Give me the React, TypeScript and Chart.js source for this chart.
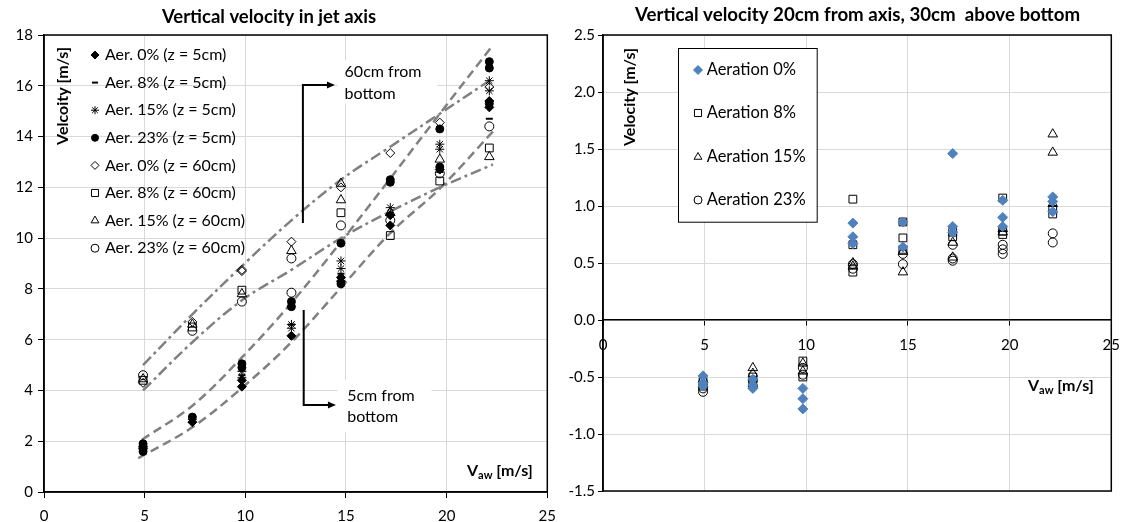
import React, { useEffect, useRef } from 'react';
import { Chart, registerables } from 'chart.js';
import { drawPoint } from 'chart.js/helpers';

Chart.register(...registerables);

const FONT = 'Lato, "Open Sans", sans-serif';

// ---------- DATA ----------
const speeds = [4.92, 7.37, 9.83, 12.29, 14.75, 17.2, 19.66, 22.12];

// Left panel: vertical velocity in jet axis (values per speed)
const aer0z5 = [[1.7, 1.8], [2.75], [4.15, 4.4], [6.15], [8.3, 8.45], [10.5, 10.9], [12.7], [15.15, 15.4]];
const aer8z5 = [[1.6], [2.9], [4.6], [6.6], [8.6], [11.0], [12.6], [14.7]];
const aer15z5 = [[1.75], [2.85], [4.5, 4.75], [6.45, 6.6], [8.8, 9.1], [11.2], [13.5, 13.7], [15.8, 16.2]];
const aer23z5 = [[1.6, 1.9], [2.95], [4.9, 5.05], [7.3, 7.5], [8.2, 9.8], [12.2, 12.3], [12.8, 14.3], [15.3, 16.7, 16.95]];
const aer0z60 = [[4.3], [6.7], [8.7, 8.75], [9.86], [12.0], [13.35], [14.55], [15.95]];
const aer8z60 = [[4.4], [6.5], [7.95], [], [11.0], [10.1], [12.25], [13.55]];
const aer15z60 = [[4.45], [6.6], [7.8], [9.5], [11.5, 12.15], [11.0], [13.1], [13.2]];
const aer23z60 = [[4.6], [6.35], [7.5], [7.85, 9.2], [10.5], [10.7], [12.55], [14.4]];

// Envelope curves (left panel)
const upper60X = [4.92, 7.37, 9.83, 12.29, 14.75, 17.2, 19.66, 22.12];
const upper60Y = [5.0, 7.0, 8.9, 10.7, 12.3, 13.6, 14.9, 16.2];
const lower60X = [4.92, 7.37, 9.83, 12.29, 14.75, 17.2, 19.66, 22.3];
const lower60Y = [4.0, 5.9, 7.55, 8.75, 10.0, 11.05, 12.0, 12.9];
const upper5X = [4.85, 7.37, 9.83, 12.29, 14.75, 17.2, 19.66, 22.2];
const upper5Y = [2.05, 3.4, 5.3, 7.45, 9.85, 12.35, 14.9, 17.5];
const lower5X = [4.68, 7.37, 9.83, 12.29, 14.75, 17.2, 19.66, 22.3];
const lower5Y = [1.33, 2.55, 4.1, 5.9, 8.05, 10.2, 11.95, 14.2];

// Right panel: 20cm from axis, 30cm above bottom
const aeration0 = [[-0.49, -0.55, -0.58], [-0.52, -0.57, -0.6], [-0.6, -0.69, -0.78], [0.85, 0.73, 0.67], [0.86, 0.64], [1.46, 0.82, 0.77], [1.05, 0.9, 0.82], [1.08, 1.04, 0.95]];
const aeration8 = [[-0.54, -0.58], [-0.5, -0.55], [-0.36, -0.5], [1.06, 0.66, 0.42], [0.86, 0.72, 0.62], [0.77, 0.73], [1.07, 0.78, 0.75], [0.97, 0.93]];
const aeration15 = [[-0.52, -0.56], [-0.42, -0.47], [-0.38, -0.45], [0.47, 0.5], [0.6, 0.42], [0.68, 0.55], [0.8, 0.77], [1.63, 1.47, 1.02]];
const aeration23 = [[-0.6, -0.63], [-0.53, -0.58], [-0.42, -0.48], [0.45, 0.49], [0.49, 0.58], [0.66, 0.52, 0.54], [0.66, 0.62, 0.58], [0.76, 0.68]];

const leftLabels = ['Aer. 0% (z = 5cm)', 'Aer. 8% (z = 5cm)', 'Aer. 15% (z = 5cm)', 'Aer. 23% (z = 5cm)', 'Aer. 0% (z = 60cm)', 'Aer. 8% (z = 60cm)', 'Aer. 15% (z = 60cm)', 'Aer. 23% (z = 60cm)'];
const rightLabels = ['Aeration 0%', 'Aeration 8%', 'Aeration 15%', 'Aeration 23%'];

const xTicks = [0, 5, 10, 15, 20, 25];
const leftYTicks = [0, 2, 4, 6, 8, 10, 12, 14, 16, 18];
const rightYTicks = [-1.5, -1.0, -0.5, 0.0, 0.5, 1.0, 1.5, 2.0, 2.5];

const leftTitle = 'Vertical velocity in jet axis';
const rightTitle = 'Vertical velocity 20cm from axis, 30cm  above bottom';
const leftYTitle = 'Velcoity [m/s]';
const rightYTitle = 'Velocity [m/s]';

// ---------- STYLES ----------
const CLEAR = 'rgba(0,0,0,0)';
const BLUE = '#4f81bd';
const leftSeries = [aer0z5, aer8z5, aer15z5, aer23z5, aer0z60, aer8z60, aer15z60, aer23z60];
const leftStyles = [
  { style: 'rectRot', r: 4.5, fill: '#000', bw: 1, lr: 4 },
  { style: 'line', r: 3.5, fill: '#000', bw: 2, lr: 3 },
  { style: 'star', r: 4.5, fill: '#000', bw: 1, lr: 4 },
  { style: 'circle', r: 4, fill: '#000', bw: 1, lr: 3.5 },
  { style: 'rectRot', r: 4.5, fill: CLEAR, bw: 1, lr: 4 },
  { style: 'rect', r: 5.5, fill: CLEAR, bw: 1, lr: 5 },
  { style: 'triangle', r: 5.5, fill: CLEAR, bw: 1, lr: 4.5 },
  { style: 'circle', r: 4.5, fill: CLEAR, bw: 1, lr: 4 },
];
const rightSeries = [aeration0, aeration8, aeration15, aeration23];
const rightStyles = [
  { style: 'rectRot', r: 5, fill: BLUE, stroke: BLUE, bw: 1, lr: 4.5 },
  { style: 'rect', r: 5.5, fill: CLEAR, stroke: '#000', bw: 1, lr: 5 },
  { style: 'triangle', r: 5.5, fill: CLEAR, stroke: '#000', bw: 1, lr: 4.5 },
  { style: 'circle', r: 4.5, fill: CLEAR, stroke: '#000', bw: 1, lr: 4 },
];

const toPoints = (vals: number[][]) => speeds.flatMap((x, i) => vals[i].map((y) => ({ x, y })));
const toLine = (xs: number[], ys: number[]) => xs.map((x, i) => ({ x, y: ys[i] }));

const DASH = [9, 5];
const DASHDOT = [11, 4, 3, 4];

function setTicks(list: number[]) {
  return (scale: any) => {
    scale.ticks = list.map((value) => ({ value }));
  };
}

function drawVTitle(ctx: CanvasRenderingContext2D, text: string, x: number, y: number) {
  ctx.save();
  ctx.translate(x, y);
  ctx.rotate(-Math.PI / 2);
  ctx.font = `bold 16px ${FONT}`;
  ctx.textAlign = 'center';
  ctx.textBaseline = 'middle';
  ctx.fillStyle = '#000';
  ctx.fillText(text, 0, 0);
  ctx.restore();
}

function drawVaw(ctx: CanvasRenderingContext2D, x: number, y: number) {
  ctx.save();
  ctx.fillStyle = '#000';
  ctx.textAlign = 'left';
  ctx.textBaseline = 'alphabetic';
  ctx.font = `bold 16px ${FONT}`;
  ctx.fillText('V', x, y + 6);
  let w = ctx.measureText('V').width;
  ctx.font = `bold 11px ${FONT}`;
  ctx.fillText('aw', x + w, y + 9);
  w += ctx.measureText('aw').width;
  ctx.font = `bold 16px ${FONT}`;
  ctx.fillText(' [m/s]', x + w, y + 6);
  ctx.restore();
}

function drawTitle(ctx: CanvasRenderingContext2D, text: string, x: number, y: number, size: number) {
  ctx.save();
  ctx.font = `bold ${size}px ${FONT}`;
  ctx.textAlign = 'center';
  ctx.textBaseline = 'middle';
  ctx.fillStyle = '#000';
  ctx.fillText(text, x, y);
  ctx.restore();
}

function drawFrame(chart: any) {
  const { ctx, chartArea: a } = chart;
  ctx.save();
  ctx.strokeStyle = '#000';
  ctx.lineWidth = 1.5;
  ctx.strokeRect(a.left, a.top, a.right - a.left, a.bottom - a.top);
  ctx.restore();
}

function marker(ctx: CanvasRenderingContext2D, s: any, x: number, y: number) {
  ctx.save();
  ctx.fillStyle = s.fill;
  ctx.strokeStyle = s.stroke || '#000';
  ctx.lineWidth = s.bw;
  drawPoint(ctx, { pointStyle: s.style, rotation: 0, radius: s.lr, borderWidth: s.bw } as any, x, y);
  ctx.restore();
}

// annotation notes on left panel (data coordinates)
const notes = [
  { box: [14.58, 19.54, 15.3, 17.0], lines: ['60cm from', 'bottom'], tx: 14.93, ty: [16.55, 15.7], stem: [12.86, 10.6, 16.03], tip: 14.45 },
  { box: [14.58, 19.25, 2.36, 4.41], lines: ['5cm from', 'bottom'], tx: 15.06, ty: [3.79, 2.97], stem: [12.9, 7.17, 3.43], tip: 14.5 },
];

const leftDecor = {
  id: 'leftDecor',
  beforeDatasetsDraw(chart: any) {
    const { ctx, scales } = chart;
    const { x, y } = scales;
    ctx.save();
    ctx.fillStyle = '#fff';
    for (const n of notes) {
      const x0 = x.getPixelForValue(n.box[0]);
      const x1 = x.getPixelForValue(n.box[1]);
      const y0 = y.getPixelForValue(n.box[3]);
      const y1 = y.getPixelForValue(n.box[2]);
      ctx.fillRect(x0, y0, x1 - x0, y1 - y0);
    }
    ctx.restore();
  },
  afterDatasetsDraw(chart: any) {
    const { ctx, scales, chartArea: a } = chart;
    const { x, y } = scales;
    drawFrame(chart);
    ctx.save();
    for (const n of notes) {
      ctx.fillStyle = '#000';
      ctx.font = `16px ${FONT}`;
      ctx.textAlign = 'left';
      ctx.textBaseline = 'middle';
      n.lines.forEach((t, i) => ctx.fillText(t, x.getPixelForValue(n.tx), y.getPixelForValue(n.ty[i])));
      const sx = x.getPixelForValue(n.stem[0]);
      const sy0 = y.getPixelForValue(n.stem[1]);
      const sy1 = y.getPixelForValue(n.stem[2]);
      const tx = x.getPixelForValue(n.tip);
      ctx.strokeStyle = '#000';
      ctx.lineWidth = 2;
      ctx.beginPath();
      ctx.moveTo(sx, sy0);
      ctx.lineTo(sx, sy1);
      ctx.lineTo(tx - 6, sy1);
      ctx.stroke();
      ctx.beginPath();
      ctx.moveTo(tx, sy1);
      ctx.lineTo(tx - 8, sy1 - 3.5);
      ctx.lineTo(tx - 8, sy1 + 3.5);
      ctx.closePath();
      ctx.fill();
    }
    ctx.restore();
    ctx.save();
    ctx.font = `16px ${FONT}`;
    ctx.textAlign = 'left';
    ctx.textBaseline = 'middle';
    leftLabels.forEach((lab, i) => {
      const yy = a.top + 20 + i * 27.6;
      marker(ctx, leftStyles[i], a.left + 51, yy);
      ctx.fillStyle = '#000';
      ctx.fillText(lab, a.left + 61, yy);
    });
    ctx.restore();
    drawVTitle(ctx, leftYTitle, a.left + 19, a.top + 61);
    drawVaw(ctx, a.left + 423, a.bottom - 22);
    drawTitle(ctx, leftTitle, 269, 17, 18.5);
  },
};

const rightDecor = {
  id: 'rightDecor',
  afterDatasetsDraw(chart: any) {
    const { ctx, chartArea: a } = chart;
    drawFrame(chart);
    ctx.save();
    ctx.fillStyle = '#fff';
    ctx.strokeStyle = '#000';
    ctx.lineWidth = 1;
    ctx.fillRect(a.left + 75, a.top + 13, 138.7, 173.7);
    ctx.strokeRect(a.left + 75.5, a.top + 13.5, 138.7, 173.7);
    ctx.font = `16.5px ${FONT}`;
    ctx.textAlign = 'left';
    ctx.textBaseline = 'middle';
    const rows = [35, 78, 122, 165];
    rightLabels.forEach((lab, i) => {
      const yy = a.top + rows[i];
      marker(ctx, rightStyles[i], a.left + 95, yy);
      ctx.fillStyle = '#000';
      ctx.fillText(lab, a.left + 103.7, yy);
    });
    ctx.restore();
    drawVTitle(ctx, rightYTitle, a.left + 27, a.top + 62);
    drawVaw(ctx, a.left + 425, a.top + 350);
    drawTitle(ctx, rightTitle, 292.5, 15, 18.7);
  },
};

const tickFont = { family: FONT, size: 15 };

function leftConfig(): any {
  const datasets: any[] = leftSeries.map((vals, i) => {
    const s = leftStyles[i];
    return {
      label: leftLabels[i],
      data: toPoints(vals),
      pointStyle: s.style,
      pointRadius: s.r,
      pointBackgroundColor: s.fill,
      pointBorderColor: '#000',
      pointBorderWidth: s.bw,
      showLine: false,
    };
  });
  const curves = [
    [upper60X, upper60Y, DASHDOT],
    [lower60X, lower60Y, DASHDOT],
    [upper5X, upper5Y, DASH],
    [lower5X, lower5Y, DASH],
  ];
  curves.forEach(([xs, ys, dash]: any) => {
    datasets.push({
      data: toLine(xs, ys),
      showLine: true,
      pointRadius: 0,
      borderColor: '#808080',
      borderWidth: 2.5,
      borderDash: dash,
      tension: 0.35,
      fill: false,
    });
  });
  return {
    type: 'scatter',
    data: { datasets },
    options: {
      animation: false,
      responsive: false,
      events: [],
      layout: { padding: { top: 35, right: 17, left: 0, bottom: 0 } },
      plugins: { legend: { display: false }, tooltip: { enabled: false }, title: { display: false } },
      scales: {
        x: {
          type: 'linear',
          position: 'bottom',
          min: 0,
          max: 25,
          afterBuildTicks: setTicks(xTicks),
          afterFit: (s: any) => { s.height = 30; },
          ticks: { font: tickFont, color: '#000', padding: 9, maxRotation: 0 },
          grid: { color: '#d9d9d9', tickColor: '#000', tickLength: 6, lineWidth: 1 },
          border: { color: '#000', width: 1.5 },
        },
        y: {
          type: 'linear',
          position: 'left',
          min: 0,
          max: 18,
          afterBuildTicks: setTicks(leftYTicks),
          afterFit: (s: any) => { s.width = 44; },
          ticks: { font: tickFont, color: '#000', padding: 5 },
          grid: { color: '#d9d9d9', tickColor: '#000', tickLength: 6, lineWidth: 1 },
          border: { color: '#000', width: 1.5 },
        },
      },
    },
    plugins: [leftDecor],
  };
}

function rightConfig(): any {
  const datasets: any[] = rightSeries.map((vals, i) => {
    const s = rightStyles[i];
    return {
      label: rightLabels[i],
      data: toPoints(vals),
      pointStyle: s.style,
      pointRadius: s.r,
      pointBackgroundColor: s.fill,
      pointBorderColor: s.stroke,
      pointBorderWidth: s.bw,
      showLine: false,
    };
  });
  return {
    type: 'scatter',
    data: { datasets },
    options: {
      animation: false,
      responsive: false,
      events: [],
      layout: { padding: { top: 35, right: 18, left: 0, bottom: 31 } },
      plugins: { legend: { display: false }, tooltip: { enabled: false }, title: { display: false } },
      scales: {
        x: {
          type: 'linear',
          position: { y: 0 },
          min: 0,
          max: 25,
          afterBuildTicks: setTicks(xTicks),
          ticks: { font: tickFont, color: '#000', padding: 11, maxRotation: 0 },
          grid: { color: '#d9d9d9', tickColor: '#000', tickLength: 5, lineWidth: 1 },
          border: { color: '#000', width: 1.5 },
        },
        y: {
          type: 'linear',
          position: 'left',
          min: -1.5,
          max: 2.5,
          afterBuildTicks: setTicks(rightYTicks),
          afterFit: (s: any) => { s.width = 38; },
          ticks: { font: tickFont, color: '#000', padding: 3, callback: (v: any) => Number(v).toFixed(1) },
          grid: { color: '#d9d9d9', tickColor: '#000', tickLength: 5, lineWidth: 1 },
          border: { color: '#000', width: 1.5 },
        },
      },
    },
    plugins: [rightDecor],
  };
}

export default function App() {
  const leftRef = useRef<HTMLCanvasElement>(null);
  const rightRef = useRef<HTMLCanvasElement>(null);
  useEffect(() => {
    const c1 = new Chart(leftRef.current as HTMLCanvasElement, leftConfig());
    const c2 = new Chart(rightRef.current as HTMLCanvasElement, rightConfig());
    return () => {
      c1.destroy();
      c2.destroy();
    };
  }, []);
  return (
    <div style={{ position: 'fixed', left: 0, top: 0, width: 1131, height: 522, background: '#fff' }}>
      <canvas ref={leftRef} width={565} height={522} style={{ position: 'absolute', left: 0, top: 0, width: 565, height: 522 }} />
      <canvas ref={rightRef} width={566} height={522} style={{ position: 'absolute', left: 565, top: 0, width: 566, height: 522 }} />
    </div>
  );
}
